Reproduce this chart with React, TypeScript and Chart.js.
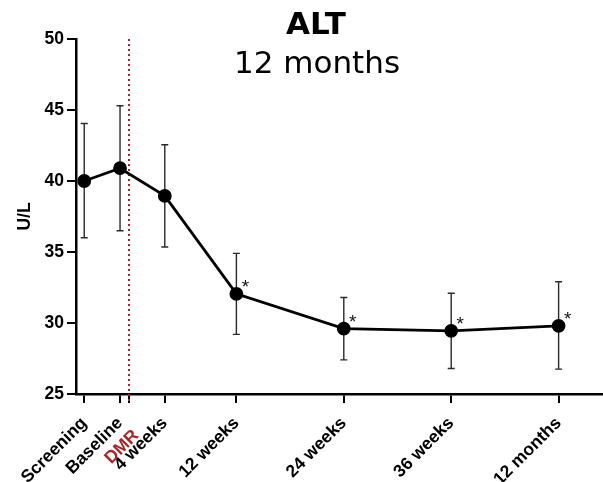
import React, { useEffect, useRef } from "react";
import { Chart, registerables } from "chart.js";

Chart.register(...registerables);

const categories = ["Screening", "Baseline", "4 weeks", "12 weeks", "24 weeks", "36 weeks", "12 months"];
const weeksFromDMR = [-5, -1, 4, 12, 24, 36, 48];
const meanALT = [40.0, 40.9, 38.95, 32.05, 29.6, 29.45, 29.8];
const upperALT = [44.05, 45.3, 42.55, 34.9, 31.8, 32.1, 32.9];
const lowerALT = [36.0, 36.5, 35.35, 29.2, 27.4, 26.8, 26.75];
const significant = [false, false, false, true, true, true, true];
const dmrWeek = 0;
const dmrLabel = "DMR";
const yTicks = [25, 30, 35, 40, 45, 50];
const titleMain = "ALT";
const titleSub = "12 months";
const yTitle = "U/L";

const DMR_COLOR = "#9c2a2a";
const TICK_FONT = "'Liberation Sans', Arial, sans-serif";
const TITLE_FONT = "'DejaVu Sans', Verdana, sans-serif";

const overlay = {
  id: "overlay",
  beforeDatasetsDraw(chart: any) {
    const { ctx, chartArea, scales } = chart;
    const x = scales.x;
    const y = scales.y;
    // DMR dotted line
    ctx.save();
    const dx = x.getPixelForValue(dmrWeek);
    ctx.strokeStyle = DMR_COLOR;
    ctx.lineWidth = 2;
    ctx.setLineDash([2, 3]);
    ctx.beginPath();
    ctx.moveTo(dx, chartArea.top);
    ctx.lineTo(dx, chartArea.bottom + 9);
    ctx.stroke();
    ctx.restore();
    // error bars
    ctx.save();
    ctx.strokeStyle = "#2a2a2a";
    ctx.lineWidth = 1.4;
    weeksFromDMR.forEach((w, i) => {
      const px = x.getPixelForValue(w);
      const top = y.getPixelForValue(upperALT[i]);
      const bot = y.getPixelForValue(lowerALT[i]);
      ctx.beginPath();
      ctx.moveTo(px, top);
      ctx.lineTo(px, bot);
      ctx.moveTo(px - 3.5, top);
      ctx.lineTo(px + 3.5, top);
      ctx.moveTo(px - 3.5, bot);
      ctx.lineTo(px + 3.5, bot);
      ctx.stroke();
    });
    ctx.restore();
  },
  afterDraw(chart: any) {
    const { ctx, chartArea, scales } = chart;
    const x = scales.x;
    const y = scales.y;
    // asterisks
    ctx.save();
    ctx.fillStyle = "#111";
    ctx.font = `19px ${TICK_FONT}`;
    ctx.textAlign = "center";
    ctx.textBaseline = "alphabetic";
    weeksFromDMR.forEach((w, i) => {
      if (!significant[i]) return;
      const px = x.getPixelForValue(w);
      const py = y.getPixelForValue(meanALT[i]);
      ctx.fillText("*", px + 9, py - 1);
    });
    ctx.restore();
    // DMR label
    ctx.save();
    const dx = x.getPixelForValue(dmrWeek);
    ctx.translate(dx + 7, chartArea.bottom + 39);
    ctx.rotate(-Math.PI / 4);
    ctx.fillStyle = "#a8282a";
    ctx.font = `bold 17.5px ${TICK_FONT}`;
    ctx.textAlign = "right";
    ctx.textBaseline = "middle";
    ctx.fillText(dmrLabel, 0, 0);
    ctx.restore();
    // title
    ctx.save();
    ctx.fillStyle = "#000";
    ctx.textAlign = "center";
    ctx.textBaseline = "alphabetic";
    ctx.font = `bold 31px ${TITLE_FONT}`;
    ctx.fillText(titleMain, 316, 34);
    ctx.font = `31px ${TITLE_FONT}`;
    ctx.fillText(titleSub, 317, 73);
    ctx.restore();
  },
};

export default function App() {
  const ref = useRef<HTMLCanvasElement | null>(null);
  useEffect(() => {
    if (!ref.current) return;
    const chart = new Chart(ref.current, {
      type: "line",
      data: {
        datasets: [
          {
            label: titleMain,
            data: weeksFromDMR.map((w, i) => ({ x: w, y: meanALT[i] })),
            borderColor: "#000",
            backgroundColor: "#000",
            borderWidth: 2.8,
            pointRadius: 5.5,
            pointBackgroundColor: "#000",
            pointBorderColor: "#000",
            tension: 0,
          },
        ],
      },
      options: {
        responsive: false,
        animation: false,
        devicePixelRatio: 1,
        layout: { autoPadding: false, padding: { top: 39, right: 0, left: 0, bottom: 0 } },
        plugins: {
          legend: { display: false },
          tooltip: { enabled: false },
          title: { display: false },
        },
        scales: {
          x: {
            type: "linear",
            min: -5.92,
            max: 52.96,
            afterBuildTicks: (scale: any) => {
              scale.ticks = [...weeksFromDMR, dmrWeek]
                .sort((a, b) => a - b)
                .map((v) => ({ value: v }));
            },
            afterFit: (scale: any) => {
              scale.height = 88;
              scale.paddingRight = 0;
              scale.paddingLeft = 0;
            },
            ticks: {
              autoSkip: false,
              minRotation: 45,
              maxRotation: 45,
              padding: 10,
              color: "#000",
              font: { family: TICK_FONT, size: 17.5, weight: "bold" },
              callback: (value: any) => {
                const i = weeksFromDMR.indexOf(Number(value));
                return i >= 0 ? categories[i] : "";
              },
            },
            grid: {
              display: true,
              drawOnChartArea: false,
              drawTicks: true,
              tickLength: 9,
              color: "#000",
              lineWidth: 2,
            },
            border: { display: true, color: "#000", width: 2.5 },
          },
          y: {
            type: "linear",
            min: yTicks[0],
            max: yTicks[yTicks.length - 1],
            afterBuildTicks: (scale: any) => {
              scale.ticks = yTicks.map((v) => ({ value: v }));
            },
            afterFit: (scale: any) => {
              scale.width = 76;
            },
            ticks: {
              padding: 3,
              color: "#000",
              font: { family: TICK_FONT, size: 17.5, weight: "bold" },
            },
            grid: {
              display: true,
              drawOnChartArea: false,
              drawTicks: true,
              tickLength: 9,
              color: "#000",
              lineWidth: 2,
            },
            border: { display: true, color: "#000", width: 2.5 },
            title: {
              display: true,
              text: yTitle,
              color: "#000",
              font: { family: TICK_FONT, size: 17.5, weight: "bold" },
              padding: { top: 15, bottom: 0 },
            },
          },
        },
      },
      plugins: [overlay],
    } as any);
    return () => chart.destroy();
  }, []);
  return (
    <div style={{ position: "fixed", left: 0, top: 0, width: 603, height: 482, background: "#fff" }}>
      <canvas ref={ref} width={603} height={482} style={{ display: "block" }} />
    </div>
  );
}
